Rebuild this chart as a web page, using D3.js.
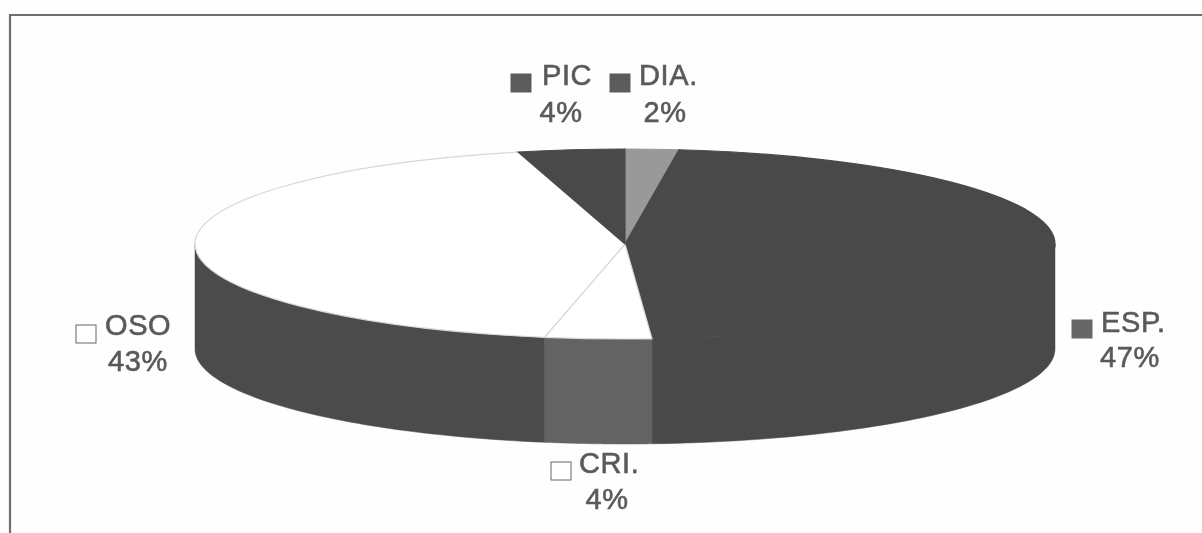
<!DOCTYPE html>
<html>
<head>
<meta charset="utf-8">
<script src="https://cdn.jsdelivr.net/npm/d3@7"></script>
<style>
html,body{margin:0;padding:0;background:#fefefe;overflow:hidden}
text{font-family:"Liberation Sans",Arial,sans-serif;font-size:29px;fill:#5a5a5a;stroke:#5a5a5a;stroke-width:.6px;letter-spacing:.6px}
</style>
</head>
<body>
<svg id="c" width="1202" height="533"></svg>
<script>
const categories = ["DIA.", "ESP.", "CRI.", "OSO", "PIC"];
const values = [2, 47, 4, 43, 4];
const labels = ["2%", "47%", "4%", "43%", "4%"];
const topColors = ["#999999", "#4a4a4a", "#ffffff", "#ffffff", "#4a4a4a"];
const wallColors = ["#808080", "#4a4a4a", "#636363", "#4c4c4c", "#4c4c4c"];
const swatchColors = ["#5c5c5c", "#666666", "#ffffff", "#ffffff", "#5c5c5c"];

const cx = 625, cy = 244, rx = 430, ry = 95, depth = 105;
const svg = d3.select("#c");

const defs = svg.append("defs");
defs.append("filter").attr("id", "scan").append("feGaussianBlur").attr("stdDeviation", 0.7);

svg.append("path")
  .attr("d", d3.line()([[1202, 15], [10, 15], [10, 533]]))
  .attr("fill", "none").attr("stroke", "#6e6e6e").attr("stroke-width", 2.2)
  .attr("filter", "url(#scan)");

const pie = d3.pie().sort(null).startAngle(0).endAngle(2 * Math.PI);
const arcs = pie(values);
const px = a => cx + rx * Math.sin(a);
const py = a => cy - ry * Math.cos(a);

const chartG = svg.append("g").attr("filter", "url(#scan)");

// side walls (only the front half of the disc is visible)
const wallLine = d3.line();
arcs.forEach((d, i) => {
  const a0 = Math.max(d.startAngle, Math.PI / 2);
  const a1 = Math.min(d.endAngle, 3 * Math.PI / 2);
  if (a1 <= a0) return;
  const angles = d3.range(0, 61).map(k => a0 + (a1 - a0) * k / 60);
  const upper = angles.map(a => [px(a), py(a)]);
  const lower = angles.slice().reverse().map(a => [px(a), py(a) + depth]);
  chartG.append("path").attr("d", wallLine(upper.concat(lower)) + "Z")
    .attr("fill", wallColors[i]).attr("stroke", wallColors[i]).attr("stroke-width", 0.5);
});

// top faces
const arcGen = d3.arc().innerRadius(0).outerRadius(rx);
const faces = chartG.append("g").attr("transform", `translate(${cx},${cy}) scale(1,${ry / rx})`);
faces.selectAll("path").data(arcs).join("path")
  .attr("d", arcGen)
  .attr("fill", (d, i) => topColors[i])
  .attr("stroke", (d, i) => topColors[i] === "#ffffff" ? "#d8d8d8" : topColors[i])
  .attr("stroke-width", 1.2)
  .attr("vector-effect", "non-scaling-stroke");

// labels: key swatch + name on line 1, percentage on line 2
const labelX = [639, 1101, 579, 105, 542];
const nameY = [85, 332, 473, 335, 85];
const pctX = [665, 1130, 607, 138, 561];
const pctY = [122, 367, 509, 371, 122];
const swatchX = [610, 1072, 551, 76, 511];
const swatchY = [74, 320, 462, 325, 74];

const lab = svg.append("g").attr("filter", "url(#scan)");
categories.forEach((c, i) => {
  lab.append("rect")
    .attr("x", swatchX[i]).attr("y", swatchY[i]).attr("width", 20).attr("height", 18)
    .attr("fill", swatchColors[i])
    .attr("stroke", swatchColors[i] === "#ffffff" ? "#666666" : swatchColors[i]).attr("stroke-width", 1);
  lab.append("text").attr("x", labelX[i]).attr("y", nameY[i]).text(c);
  lab.append("text").attr("x", pctX[i]).attr("y", pctY[i]).attr("text-anchor", "middle").text(labels[i]);
});
</script>
</body>
</html>
